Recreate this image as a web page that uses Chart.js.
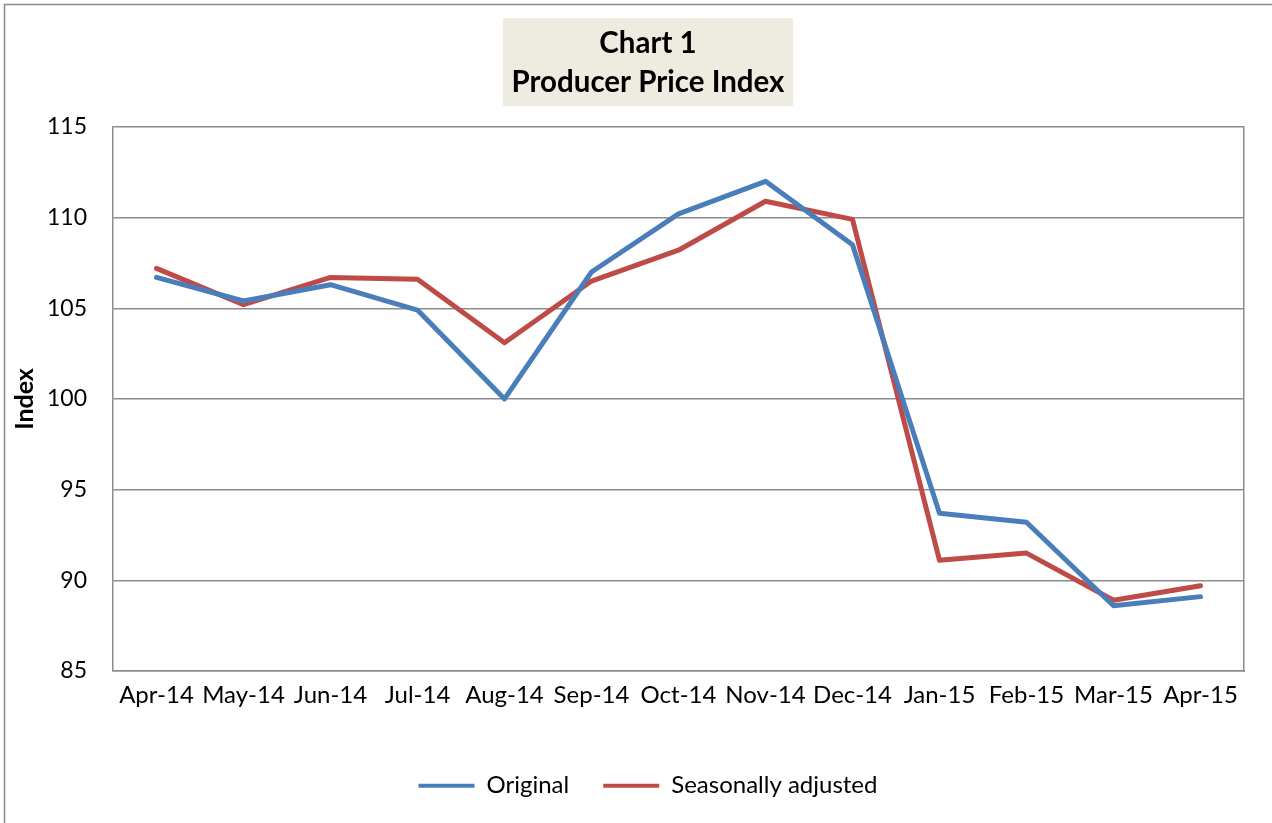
<!DOCTYPE html>
<html>
<head>
<meta charset="utf-8">
<script src="https://cdn.jsdelivr.net/npm/chart.js@4/dist/chart.umd.min.js"></script>
<style>
  html, body { margin: 0; padding: 0; background: #fff; }
  #wrap { width: 1272px; height: 823px; }
</style>
</head>
<body>
<div id="wrap"><canvas id="c" width="1272" height="823"></canvas></div>
<script>
const categories = ['Apr-14','May-14','Jun-14','Jul-14','Aug-14','Sep-14','Oct-14','Nov-14','Dec-14','Jan-15','Feb-15','Mar-15','Apr-15'];
const originalValues = [106.7,105.4,106.3,104.9,100.0,107.0,110.2,112.0,108.5,93.7,93.2,88.6,89.1];
const seasonallyAdjustedValues = [107.2,105.2,106.7,106.6,103.1,106.5,108.2,110.9,109.9,91.1,91.5,88.9,89.7];
const seriesNames = ['Original','Seasonally adjusted'];
const titleLines = ['Chart 1','Producer Price Index'];
const yAxisTitle = 'Index';
const yMin = 85, yMax = 115, yStep = 5;

const FONT = 'Lato, "Open Sans", "Liberation Sans", sans-serif';
const GRID = '#8c8c8c';

const decor = {
  id: 'decor',
  beforeDraw(chart) {
    const ctx = chart.ctx;
    ctx.save();
    ctx.fillStyle = '#ffffff';
    ctx.fillRect(0, 0, chart.width, chart.height);
    ctx.strokeStyle = '#898989';
    ctx.lineWidth = 1.5;
    ctx.strokeRect(4.5, 4.5, chart.width + 40, chart.height + 40);
    const tb = chart.titleBlock;
    const cx = (tb.left + tb.right) / 2;
    ctx.fillStyle = '#EEECE1';
    ctx.fillRect(cx - 145, tb.top + 18, 290, 88);
    ctx.restore();
  }
};

new Chart(document.getElementById('c'), {
  type: 'line',
  data: {
    labels: categories,
    datasets: [
      { label: seriesNames[0], data: originalValues, borderColor: '#4A7EBB', backgroundColor: '#4A7EBB',
        borderWidth: 5, pointRadius: 0, tension: 0, borderJoinStyle: 'round', borderCapStyle: 'round', yAxisID: 'y' },
      { label: seriesNames[1], data: seasonallyAdjustedValues, borderColor: '#BE4B48', backgroundColor: '#BE4B48',
        borderWidth: 5, pointRadius: 0, tension: 0, borderJoinStyle: 'round', borderCapStyle: 'round', yAxisID: 'y' }
    ]
  },
  options: {
    responsive: false,
    animation: false,
    layout: { padding: { left: 24, right: 0, top: 0, bottom: 23.3 } },
    plugins: {
      title: {
        display: true,
        text: titleLines,
        color: '#000',
        font: { family: FONT, size: 29.5, weight: 'bold', lineHeight: 1.31 },
        padding: { top: 24.6, bottom: 25 }
      },
      legend: {
        position: 'bottom',
        maxHeight: 60,
        labels: {
          color: '#000',
          font: { family: FONT, size: 24 },
          boxWidth: 56,
          boxHeight: 4,
          padding: 34,
          generateLabels(chart) {
            const items = Chart.defaults.plugins.legend.labels.generateLabels(chart);
            items.forEach(it => { it.lineWidth = 0; });
            return items;
          }
        }
      },
      tooltip: { enabled: false }
    },
    scales: {
      x: {
        type: 'category',
        offset: true,
        grid: { display: false, drawTicks: false },
        border: { display: true, color: GRID, width: 1.5 },
        ticks: { color: '#000', font: { family: FONT, size: 24 }, padding: 10, maxRotation: 0, autoSkip: false },
        afterFit(s) { s.height = 68.7; }
      },
      y: {
        type: 'linear',
        position: 'left',
        min: yMin, max: yMax,
        grid: { color: GRID, lineWidth: 1.5, drawTicks: false },
        border: { display: true, color: GRID, width: 1.5 },
        ticks: { stepSize: yStep, color: '#000', font: { family: FONT, size: 23 }, padding: 26 },
        title: { display: true, text: yAxisTitle, color: '#000', font: { family: FONT, size: 25, weight: 'bold', lineHeight: 1.2 }, padding: { top: -14, bottom: 0 } },
        afterFit(s) { s.width = 89; }
      },
      yR: {
        type: 'linear',
        position: 'right',
        display: true,
        grid: { display: false, drawTicks: false },
        border: { display: true, color: GRID, width: 1.5 },
        ticks: { display: false },
        afterFit(s) { s.width = 28; }
      }
    }
  },
  plugins: [decor]
});
</script>
</body>
</html>
